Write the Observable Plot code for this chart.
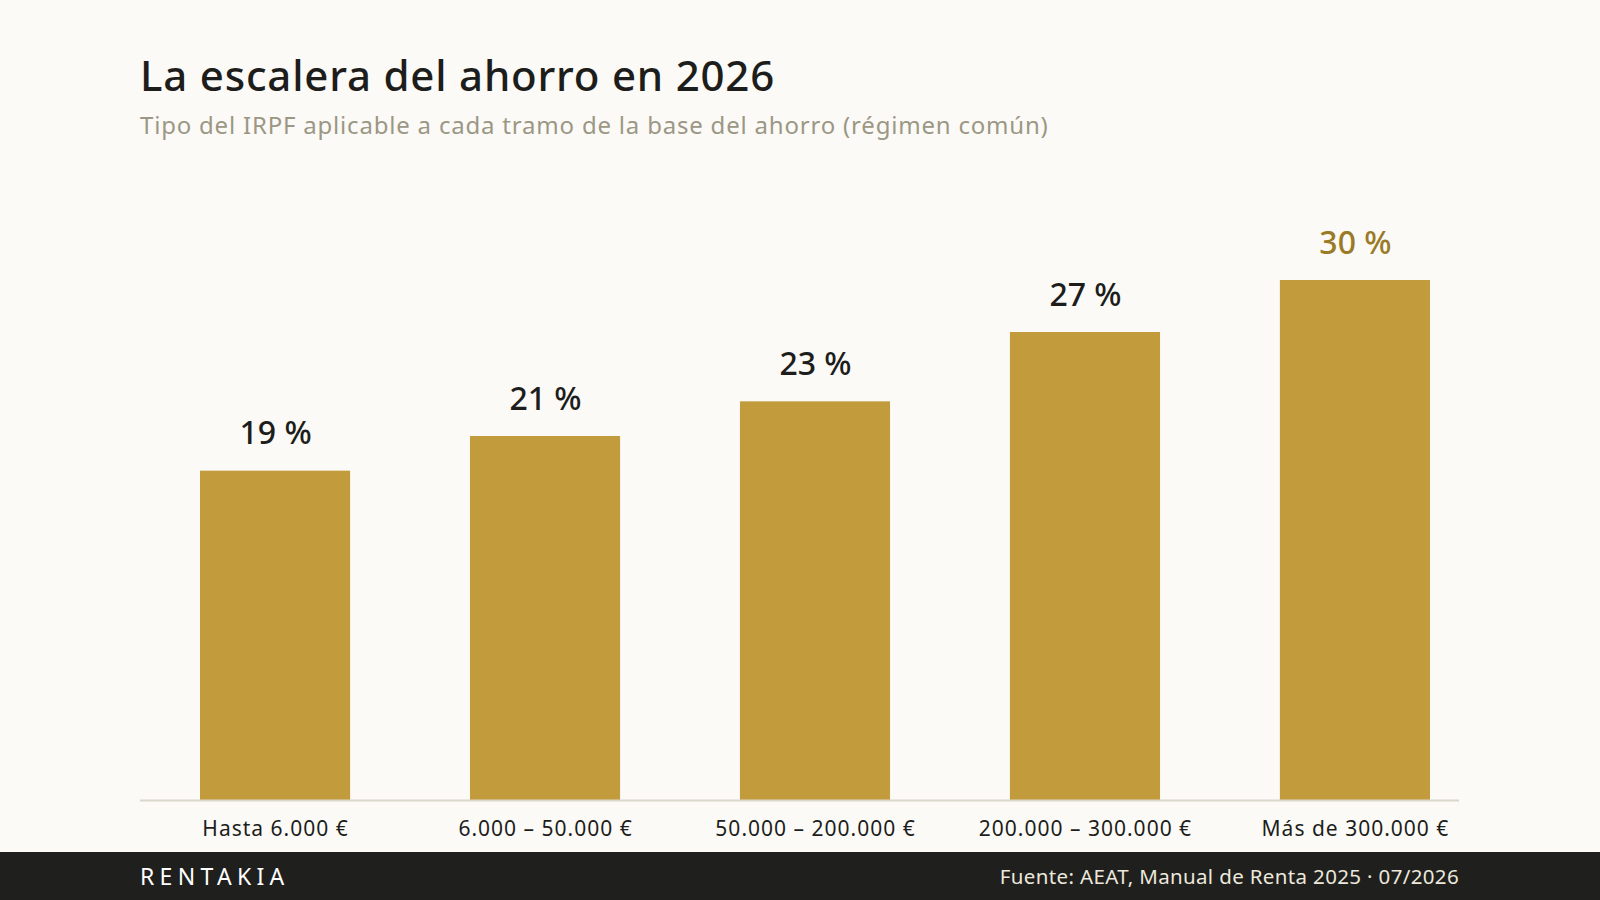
<!DOCTYPE html>
<html>
<head>
<meta charset="utf-8">
<script src="https://cdn.jsdelivr.net/npm/d3@7"></script>
<script src="https://cdn.jsdelivr.net/npm/@observablehq/plot@0.6"></script>
<style>
  html, body { margin: 0; padding: 0; background: #fbfaf7; }
  body { width: 1600px; height: 900px; position: relative; overflow: hidden; font-family: "Noto Sans", sans-serif; }
  #header { height: 160px; padding-left: 140px; box-sizing: border-box; }
  #title { padding-top: 50px; font-size: 42px; font-weight: 500; color: #1d1d1b; line-height: 50px; letter-spacing: 0.8px; }
  #subtitle { margin-top: 10px; font-size: 24px; color: #9b9784; line-height: 30px; letter-spacing: 0.8px; }
  #chart { height: 692px; margin-top: -2px; }
  #footer { position: absolute; left: 0; top: 852px; width: 1600px; height: 48px; background: #1f1f1d; }
  #brand { position: absolute; left: 140px; top: 0; line-height: 48px; font-size: 23px; color: #ffffff; letter-spacing: 5.3px; }
  #source { position: absolute; right: 141px; top: 0; line-height: 48px; font-size: 20.5px; color: #ece8dc; letter-spacing: 0.35px; }
</style>
</head>
<body>
<div id="header">
  <div id="title">La escalera del ahorro en 2026</div>
  <div id="subtitle">Tipo del IRPF aplicable a cada tramo de la base del ahorro (régimen común)</div>
</div>
<div id="chart"></div>
<div id="footer">
  <div id="brand">RENTAKIA</div>
  <div id="source">Fuente: AEAT, Manual de Renta 2025 · 07/2026</div>
</div>
<script>
const tramos = ["Hasta 6.000 €", "6.000 – 50.000 €", "50.000 – 200.000 €", "200.000 – 300.000 €", "Más de 300.000 €"];
const tipos = [19, 21, 23, 27, 30];

const data = tramos.map((t, i) => ({tramo: t, tipo: tipos[i]}));
const maxTipo = d3.max(tipos);

const plot = Plot.plot({
  width: 1600,
  height: 692,
  marginLeft: 140,
  marginRight: 141,
  marginTop: 122,
  marginBottom: 50,
  style: { background: "transparent", fontFamily: "Noto Sans, sans-serif" },
  x: { domain: tramos, range: [200, 1430], paddingInner: 0.444, paddingOuter: 0, round: false, label: null },
  y: { domain: [0, 30], axis: null },
  marks: [
    Plot.barY(data, { x: "tramo", y: "tipo", fill: "#c29b3c" }),
    Plot.ruleY([0], { stroke: "#d9d6cb", strokeWidth: 2 }),
    Plot.text(data, {
      x: "tramo", y: "tipo", dy: -37,
      text: d => `${d.tipo} %`,
      fontSize: 32, fontWeight: 500,
      fill: d => d.tipo === maxTipo ? "#9a7a26" : "#1d1d1b",
      style: "letter-spacing: -0.5px"
    }),
    Plot.axisX({ tickSize: 0, tickPadding: 21, fontSize: 21, fill: "#1d1d1b", label: null })
  ]
});
plot.querySelectorAll("g[aria-label='x-axis tick label'] text").forEach(t => t.setAttribute("letter-spacing", "1"));
document.getElementById("chart").appendChild(plot);
</script>
</body>
</html>
